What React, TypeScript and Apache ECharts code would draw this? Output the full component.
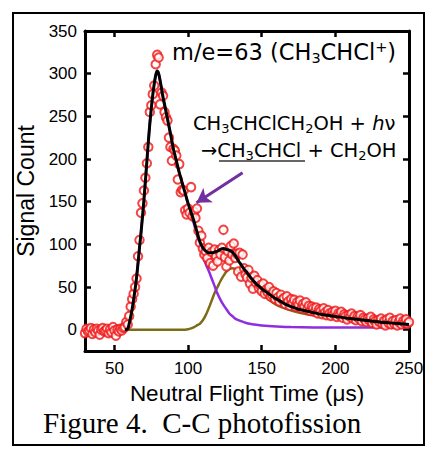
import React, { useEffect, useRef } from "react";
import * as echarts from "echarts";

// Measured signal (neutral flight time in µs, counts)
const signalPoints: [number, number][] = [
  [30, -4], [31, 1], [32, -2], [33, -1], [34, 2], [35, -5], [36, 0], [37, -3], [38, 1], [39, -1],
  [40, -6], [41, 0], [42, 2], [43, -2], [44, -1], [45, 1], [46, -4], [47, 0], [48, -3], [49, 3],
  [50, -1], [51, -7], [52, 0], [53, -2], [54, 1], [55, -1], [56, 2], [57, 3], [58, 9], [59, 6],
  [60, 16], [61, 27], [62, 36], [63, 42], [64, 50], [65, 60], [66, 86], [67, 105], [68, 137], [69, 148],
  [70, 163], [71, 178], [72, 195], [73, 214], [74, 255], [75, 263], [76, 276], [77, 286], [78, 311], [79, 322],
  [80, 319], [81, 264], [82, 278], [83, 274], [84, 255], [85, 249], [86, 245], [87, 225], [88, 214], [89, 198],
  [90, 212], [91, 210], [92, 204], [93, 176], [94, 194], [95, 161], [96, 164], [97, 163], [98, 140], [99, 135],
  [100, 142], [101, 137], [102, 167], [103, 133], [104, 138], [105, 131], [106, 142], [107, 116], [108, 102], [109, 110],
  [110, 95], [111, 88], [112, 92], [113, 84], [114, 96], [115, 78], [116, 91], [117, 75], [118, 94], [119, 86],
  [120, 80], [121, 93], [122, 88], [123, 96], [124, 117], [125, 85], [126, 74], [127, 92], [128, 81], [129, 98],
  [130, 88], [131, 101], [132, 84], [133, 89], [134, 68], [135, 90], [136, 62], [137, 88], [138, 72], [139, 65],
  [140, 61], [141, 70], [142, 54], [143, 61], [144, 48], [145, 63], [146, 55], [147, 58], [148, 49], [149, 52],
  [150, 45], [151, 54], [152, 42], [153, 47], [154, 44], [155, 50], [156, 39], [157, 41], [158, 45], [159, 36],
  [160, 43], [161, 38], [162, 33], [163, 41], [164, 35], [165, 37], [166, 30], [167, 39], [168, 33], [169, 28],
  [170, 36], [171, 31], [172, 35], [173, 27], [174, 32], [175, 29], [176, 34], [177, 25], [178, 30], [179, 27],
  [180, 32], [181, 24], [182, 28], [183, 22], [184, 27], [185, 25], [186, 21], [187, 26], [188, 19], [189, 24],
  [190, 22], [191, 18], [192, 25], [193, 20], [194, 17], [195, 23], [196, 19], [197, 16], [198, 21], [199, 18],
  [200, 22], [201, 15], [202, 19], [203, 17], [204, 21], [205, 14], [206, 18], [207, 16], [208, 12], [209, 17],
  [210, 15], [211, 19], [212, 13], [213, 16], [214, 11], [215, 15], [216, 13], [217, 17], [218, 10], [219, 14],
  [220, 12], [221, 9], [222, 13], [223, 11], [224, 15], [225, 8], [226, 12], [227, 10], [228, 6], [229, 11],
  [230, 9], [231, 13], [232, 7], [233, 10], [234, 5], [235, 12], [236, 8], [237, 14], [238, 6], [239, 10],
  [240, 7], [241, 11], [242, 5], [243, 9], [244, 13], [245, 6], [246, 10], [247, 8], [248, 12], [249, 7],
  [250, 9],
];

// Total fit (black)
const totalFit: [number, number][] = [
  [57, 0], [59, 1], [60, 7], [61, 15], [62, 24], [63, 35], [64, 47], [65, 61], [66, 78], [67, 96],
  [68, 113], [69, 132], [70, 152], [71, 174], [72, 197], [73, 220], [74, 241], [75, 259], [76, 275],
  [77, 288], [78, 298], [79, 303], [80, 300], [81, 292], [82, 282], [83, 272], [84, 264], [86, 247],
  [88, 230], [90, 212], [92, 198], [94, 184], [96, 172], [98, 160], [100, 148], [102, 138], [104, 127],
  [106, 115], [108, 103], [110, 96], [112, 92], [114, 90], [116, 90], [118, 91], [120, 92], [122, 94],
  [124, 95], [126, 94], [128, 93], [130, 91], [132, 87], [134, 81], [136, 76], [138, 71], [140, 67],
  [142, 62], [144, 58], [146, 54], [148, 51], [150, 48], [154, 43], [158, 38], [162, 34], [166, 30],
  [170, 27], [175, 24], [180, 22], [185, 20], [190, 18], [200, 15.5], [210, 13], [220, 11], [230, 9],
  [240, 7.5], [250, 6],
];

// Fast component (purple)
const fastComponent: [number, number][] = [
  [57, 0], [60, 7], [62, 24], [64, 47], [66, 78], [68, 113], [70, 152], [72, 197], [74, 241], [76, 275],
  [78, 298], [79, 303], [80, 300], [82, 282], [84, 264], [86, 247], [88, 230], [90, 212], [92, 198],
  [94, 184], [96, 172], [98, 160], [100, 147], [102, 136], [104, 124], [106, 111], [108, 98], [110, 86],
  [112, 77], [114, 69], [116, 60], [118, 51], [120, 42], [122, 35], [124, 29], [126, 24], [128, 19],
  [130, 16], [132, 13], [135, 10.5], [140, 7.5], [145, 6], [150, 5], [160, 3.8], [170, 3], [200, 2.5],
  [250, 2.5],
];

// Slow component (olive)
const slowComponent: [number, number][] = [
  [58, 0], [98, 0], [100, 0.5], [102, 1.5], [104, 3], [106, 5], [108, 7], [110, 11], [112, 17],
  [114, 25], [116, 34], [118, 43], [120, 50], [122, 57], [124, 63], [126, 68], [128, 71], [130, 72],
  [132, 71], [134, 68], [136, 65], [138, 62], [140, 59], [142, 56], [145, 51], [150, 42], [155, 35],
  [160, 29], [167, 24], [175, 20], [188, 16], [200, 14], [210, 12.5], [220, 10.5], [230, 9],
  [240, 7.5], [250, 6.5],
];

const yTicks = [0, 50, 100, 150, 200, 250, 300, 350];
const xTicks = [50, 100, 150, 200, 250];
const arrowFrom: [number, number] = [137, 184];
const arrowTo: [number, number] = [105.7, 148.7];

const AXIS_FONT = "'Liberation Sans', Arial, sans-serif";
const DEJAVU = "'DejaVu Sans', sans-serif";

export default function App() {
  const ref = useRef<HTMLDivElement>(null);

  useEffect(() => {
    if (!ref.current) return;
    const chart = echarts.init(ref.current, undefined, { renderer: "svg" });

    const xBase = {
      type: "value" as const,
      min: 30,
      max: 250,
      axisLine: { show: true, onZero: false, lineStyle: { color: "#000", width: 3 } },
      axisTick: { show: true, inside: true, length: 6, customValues: xTicks, lineStyle: { color: "#000", width: 2.5 } },
      splitLine: { show: false },
    };
    const yBase = {
      type: "value" as const,
      min: -25,
      max: 350,
      axisLine: { show: true, onZero: false, lineStyle: { color: "#000", width: 3 } },
      axisTick: { show: true, inside: true, length: 6, customValues: yTicks, lineStyle: { color: "#000", width: 2.5 } },
      splitLine: { show: false },
    };

    const normal = { fontFamily: DEJAVU, fontSize: 22.5, lineHeight: 26, color: "#000" };
    const sub = { fontFamily: DEJAVU, fontSize: 14.5, lineHeight: 12, verticalAlign: "bottom", color: "#000" };
    const sup = { fontFamily: DEJAVU, fontSize: 14.5, lineHeight: 12, verticalAlign: "top", color: "#000" };
    const an = { fontFamily: DEJAVU, fontSize: 19.5, lineHeight: 24, color: "#000" };
    const anSub = { fontFamily: DEJAVU, fontSize: 13, lineHeight: 11, verticalAlign: "bottom", color: "#000" };
    const anIt = { fontFamily: DEJAVU, fontSize: 19.5, lineHeight: 24, fontStyle: "italic", color: "#000" };

    chart.setOption({
      animation: false,
      backgroundColor: "#fff",
      grid: { left: 85, right: 17, top: 31, bottom: 98, outerBoundsMode: "none", containLabel: false },
      xAxis: [
        {
          ...xBase,
          position: "bottom",
          name: "Neutral Flight Time (\u03bcs)",
          nameLocation: "middle",
          nameGap: 28,
          nameTextStyle: { fontFamily: AXIS_FONT, fontSize: 22.5, color: "#000" },
          axisLabel: { show: true, customValues: xTicks, margin: 9, fontFamily: AXIS_FONT, fontSize: 17, color: "#000" },
        },
        { ...xBase, position: "top", axisLabel: { show: false } },
      ],
      yAxis: [
        {
          ...yBase,
          position: "left",
          name: "Signal Count",
          nameLocation: "middle",
          nameRotate: 90,
          nameGap: 44,
          nameTextStyle: { fontFamily: AXIS_FONT, fontSize: 23, color: "#000" },
          axisLabel: { show: true, customValues: yTicks, margin: 8, fontFamily: AXIS_FONT, fontSize: 17, color: "#000" },
        },
        { ...yBase, position: "right", axisLabel: { show: false } },
      ],
      series: [
        {
          type: "line",
          data: slowComponent,
          showSymbol: false,
          smooth: 0.3,
          lineStyle: { color: "#7d6b16", width: 2.5 },
          z: 2,
        },
        {
          type: "line",
          data: fastComponent,
          showSymbol: false,
          smooth: 0.3,
          lineStyle: { color: "#8e2ee0", width: 2.5 },
          z: 2,
        },
        {
          type: "scatter",
          data: signalPoints,
          symbol: "emptyCircle",
          symbolSize: 8.5,
          itemStyle: { color: "#f01515", borderColor: "#f01515", borderWidth: 1.1 },
          z: 3,
        },
        {
          type: "line",
          data: totalFit,
          showSymbol: false,
          smooth: 0.3,
          lineStyle: { color: "#000", width: 3 },
          z: 4,
          markLine: {
            silent: true,
            symbol: ["none", "arrow"],
            symbolSize: [13, 14],
            label: { show: false },
            lineStyle: { color: "#7030a0", width: 3, type: "solid" },
            data: [[{ coord: arrowFrom }, { coord: arrowTo }]],
          },
        },
      ],
      graphic: [
        {
          type: "rect",
          shape: { x: 13, y: 13, width: 411, height: 432 },
          style: { fill: "none", stroke: "#000", lineWidth: 2 },
          silent: true,
        },
        {
          type: "text",
          x: 172,
          y: 52,
          style: {
            text: "{n|m/e=63 (CH}{s|3}{n|CHCl}{p|+}{n|)}",
            align: "left",
            verticalAlign: "middle",
            rich: { n: normal, s: sub, p: sup },
          },
        },
        {
          type: "text",
          x: 193,
          y: 123,
          style: {
            text: "{a|CH}{b|3}{a|CHClCH}{b|2}{a|OH + }{i|h}{a|\u03bd}",
            align: "left",
            verticalAlign: "middle",
            rich: { a: an, b: anSub, i: anIt },
          },
        },
        {
          type: "text",
          x: 201,
          y: 150,
          style: {
            text: "{a|\u2192CH}{b|3}{a|CHCl + CH}{b|2}{a|OH}",
            align: "left",
            verticalAlign: "middle",
            rich: { a: an, b: anSub },
          },
        },
        {
          type: "line",
          shape: { x1: 219, y1: 161, x2: 305, y2: 161 },
          style: { stroke: "#333", lineWidth: 1.5 },
          silent: true,
        },
        {
          type: "text",
          x: 43,
          y: 423,
          style: {
            text: "Figure 4.  C-C photofission",
            align: "left",
            verticalAlign: "middle",
            fontFamily: "'Liberation Serif', 'Times New Roman', serif",
            fontSize: 29,
            fill: "#000",
          },
        },
      ],
    });

    return () => chart.dispose();
  }, []);

  return (
    <div
      ref={ref}
      style={{ position: "fixed", left: 0, top: 0, width: 426, height: 449, background: "#fff" }}
    />
  );
}
